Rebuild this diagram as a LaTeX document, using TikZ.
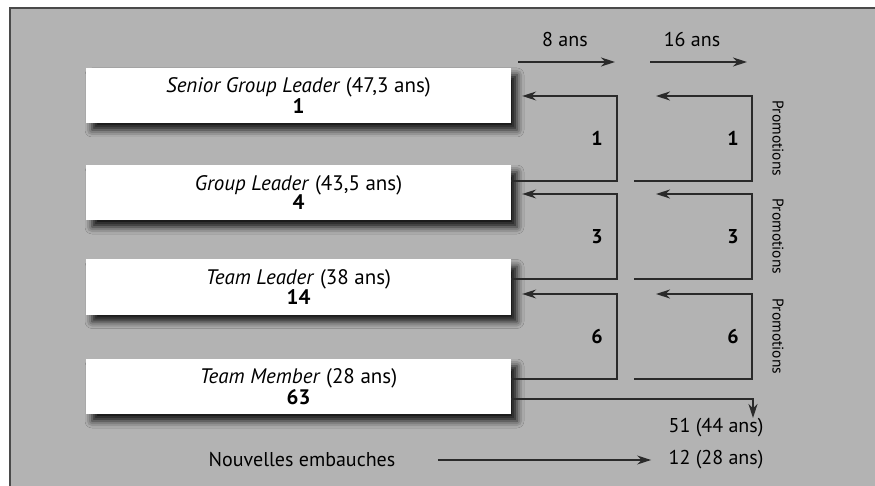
\documentclass[tikz,border=0pt]{standalone}
\usepackage{fontspec}
\setmainfont{PT Sans}
\usetikzlibrary{arrows.meta,shadows.blur}
\definecolor{panel}{HTML}{B3B3B3}
\definecolor{ink}{HTML}{2A2A2A}
\tikzset{
  grade/.style={fill=white, minimum width=425pt, minimum height=55pt, inner sep=0pt,
    align=center, font=\fontsize{21}{19.5}\selectfont,
    blur shadow={shadow xshift=6pt, shadow yshift=-7pt, shadow blur radius=7pt, shadow opacity=90}},
  promo/.style={draw=ink, line width=1.3pt, -{Stealth[length=14pt,width=9pt,inset=4.5pt]}},
  count/.style={font=\fontsize{20}{20}\selectfont\bfseries},
  plain/.style={font=\fontsize{20}{20}\selectfont},
  side/.style={font=\fontsize{15.5}{16}\selectfont, rotate=-90},
}
\begin{document}
\begin{tikzpicture}[x=1pt,y=-1pt]
\useasboundingbox (0,0) rectangle (875,486);
\fill[panel] (10,8) rectangle (875,486);
\draw[ink!85, line width=1.5pt] (10,486) -- (10,8) -- (875,8);
% grades
\node[grade] (sgl) at (298.5,95.5) {\textit{Senior Group Leader} (47,3 ans)\\\textbf{1}};
\node[grade] (gl) at (298.5,192.5) {\textit{Group Leader} (43,5 ans)\\\textbf{4}};
\node[grade] (tl) at (298.5,287) {\textit{Team Leader} (38 ans)\\\textbf{14}};
\node[grade] (tm) at (298.5,386.5) {\textit{Team Member} (28 ans)\\\textbf{63}};
% durations
\node[plain] (huit) at (565,40) {8 ans};
\node[plain] (seize) at (692,40) {16 ans};
\coordinate (h0) at (518,62); \coordinate (h1) at (615,62);
\coordinate (s0) at (650,62); \coordinate (s1) at (747,62);
\draw[promo] (h0) -- (h1);
\draw[promo] (s0) -- (s1);
% promotions
\foreach \lo/\hi/\n/\top/\bot in {gl/sgl/1/96/181, tl/gl/3/194/279, tm/tl/6/294/379}{
  \draw[promo, shorten >=11pt] (\lo.east |- 0,\bot) -- (617,\bot) |- (\hi.east |- 0,\top);
  \draw[promo] (634,\bot) -- (752,\bot) |- (656,\top);
  \node[count] at (597,{(\top+\bot)/2}) {\n};
  \node[count] at (733,{(\top+\bot)/2}) {\n};
  \node[side] at (778,{(\top+\bot)/2}) {Promotions};
}
% departures and hires
\node[plain] (depart) at (716,428) {51 (44 ans)};
\node[plain] (embauche) at (302,460) {Nouvelles embauches};
\node[plain] (nouveaux) at (716,460) {12 (28 ans)};
\draw[promo] (tm.east |- 0,399) -| (753,418);
\draw[promo, shorten <=39pt, shorten >=14pt] (embauche) -- (nouveaux);
\end{tikzpicture}
\end{document}
